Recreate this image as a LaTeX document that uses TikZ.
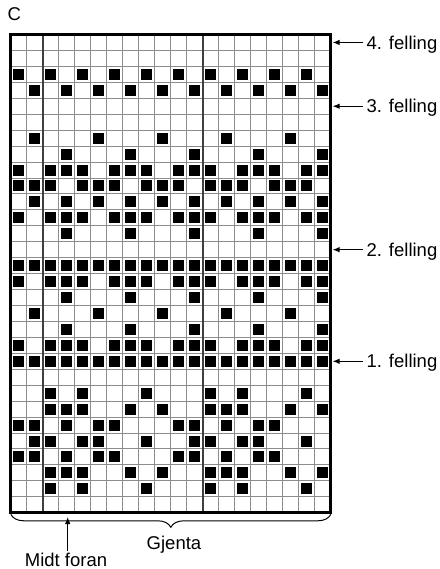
\documentclass[tikz,border=0pt]{standalone}
\usepackage{fontspec}
\setmainfont{Liberation Sans}
\usetikzlibrary{arrows.meta,decorations.pathreplacing}
\begin{document}
\begin{tikzpicture}[x=1pt,y=-1pt,
  lbl/.style={font=\fontsize{18.5}{22}\selectfont, inner sep=0pt},
  thingrid/.style={draw=black!45, line width=0.9pt},
  thickgrid/.style={draw=black!75, line width=1.6pt},
  stitch/.style={fill=black},
  border/.style={draw=black, line width=3pt},
  pointer/.style={-{Latex[length=7pt,width=5.5pt]}, line width=1pt}]
\useasboundingbox (0,0) rectangle (439,569);
\def\xo{10.8}\def\yo{34.5}\def\cw{16}\def\ch{15.94}
% grid lines
\foreach \c in {1,...,19}
  \draw[thingrid] (\xo+\cw*\c,\yo) -- (\xo+\cw*\c,\yo+30*\ch);
\foreach \r in {1,...,29}
  \draw[thingrid] (\xo,\yo+\ch*\r) -- (\xo+320,\yo+\ch*\r);
\foreach \c in {2,12}
  \draw[thickgrid] (\xo+\cw*\c,\yo) -- (\xo+\cw*\c,\yo+30*\ch);
% stitches
\foreach \r/\cl in {
  2/{0,2,4,6,8,10,12,14,16,18},
  3/{1,3,5,7,9,11,13,15,17,19},
  6/{1,5,9,13,17},
  7/{3,7,11,15,19},
  8/{0,2,3,4,6,7,8,10,11,12,14,15,16,18,19},
  9/{0,1,2,4,5,6,8,9,10,12,13,14,16,17,18},
  10/{1,3,5,7,9,11,13,15,17,19},
  11/{0,2,3,4,6,7,8,10,11,12,14,15,16,18,19},
  12/{3,7,11,15,19},
  14/{0,1,2,3,4,5,6,7,8,9,10,11,12,13,14,15,16,17,18,19},
  15/{0,2,3,4,6,7,8,10,11,12,14,15,16,18,19},
  16/{3,7,11,15,19},
  17/{1,5,9,13,17},
  18/{3,7,11,15,19},
  19/{0,2,3,4,6,7,8,10,11,12,14,15,16,18,19},
  20/{0,1,2,3,4,5,6,7,8,9,10,11,12,13,14,15,16,17,18,19},
  22/{2,4,8,12,14,18},
  23/{2,3,4,7,9,12,13,14,17,19},
  24/{0,1,3,5,6,10,11,13,15,16},
  25/{1,2,4,5,8,11,12,14,15,18},
  26/{0,1,3,5,6,10,11,13,15,16},
  27/{2,3,4,7,9,12,13,14,17,19},
  28/{2,4,8,12,14,18}}{
  \foreach \c in \cl {
    \fill[stitch] (\xo+\cw*\c+2.5,\yo+\ch*\r+2.5) rectangle ++(11,11);
  }
}
% border
\draw[border] (\xo,\yo) rectangle (\xo+320,\yo+30*\ch);
% title
\node[lbl, anchor=base west] (title) at (7.3,21) {C};
% right labels
\foreach \n/\t/\r in {4/4. felling/0, 3/3. felling/4, 2/2. felling/13, 1/1. felling/20}{
  \node[lbl, anchor=base west] (f\n) at (366.5,\yo+\ch*\r+\ch/2+6.6) {\t};
  \coordinate (a\n) at (332.6,\yo+\ch*\r+\ch/2);
  \coordinate (t\n) at (363,\yo+\ch*\r+\ch/2);
  \draw[pointer] (t\n) -- (a\n);
}
% brace
\coordinate (bl) at (\xo,\yo+30*\ch+1.6);
\coordinate (br) at (\xo+320,\yo+30*\ch+1.6);
\draw[decorate, decoration={brace, mirror, amplitude=13pt}, line width=1pt] (bl) -- (br);
\node[lbl, anchor=base] (gjenta) at (174,549) {Gjenta};
% Midt foran
\node[lbl, anchor=base] (midt) at (66,566) {Midt foran};
\coordinate (mtip) at (67.7,517);
\coordinate (mtail) at (67.7,551);
\draw[pointer] (mtail) -- (mtip);
\end{tikzpicture}
\end{document}
